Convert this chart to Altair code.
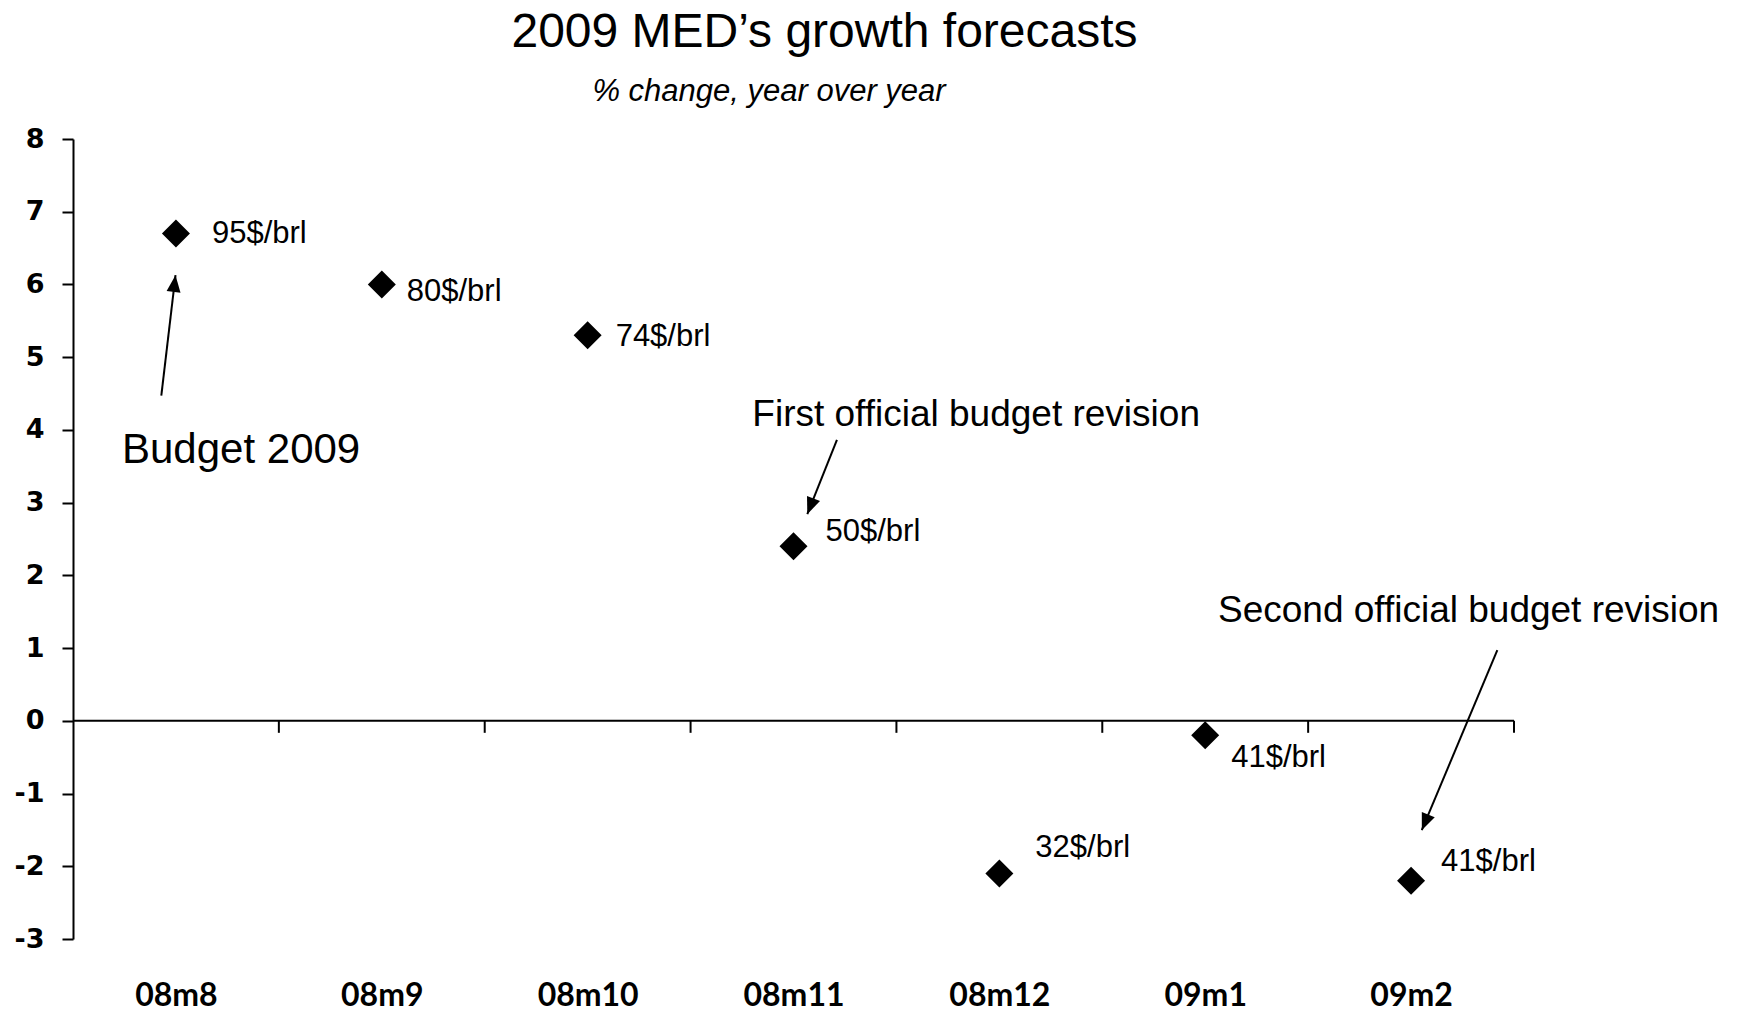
import json
import math

import altair as alt
import pandas as pd

# Forecast vintages and the oil-price assumption behind each one
months = ["08m8", "08m9", "08m10", "08m11", "08m12", "09m1", "09m2"]
growth = [6.7, 6.0, 5.3, 2.4, -2.1, -0.2, -2.2]
oil_price = [95, 80, 74, 50, 32, 41, 41]

# Callouts: text, anchor (x in month slots, y in %), font size
notes = [
    ("Budget 2009", 0.238, 3.73, 42),
    ("First official budget revision", 3.30, 4.21, 37),
    ("Second official budget revision", 5.562, 1.51, 37),
]

# Arrows: start (x, y) -> tip (x, y), same units as the chart axes
arrows = [
    (0.429, 4.47, 0.498, 6.127),
    (3.711, 3.864, 3.567, 2.842),
    (6.919, 0.972, 6.552, -1.503),
]

# Pixel nudges for the price labels next to each diamond
label_offsets = [(36, 0), (25, 8), (28, 2), (32, -14), (36, -26), (26, 23), (30, -19)]

W, H = 1441, 800
Y_MIN, Y_MAX = -3, 8
N = len(months)

df = pd.DataFrame({
    "pos": [i + 0.5 for i in range(N)],
    "growth": growth,
    "label": [f"{p}$/brl" for p in oil_price],
})

x_scale = alt.Scale(domain=[0, N], nice=False, zero=False)
y_scale = alt.Scale(domain=[Y_MIN, Y_MAX], nice=False, zero=False)

label_expr = json.dumps(months) + "[round(datum.value - 0.5)]"

x_axis = alt.Axis(
    values=[i + 0.5 for i in range(N)],
    labelExpr=label_expr,
    domain=False, ticks=False, tickSize=0, grid=False,
    labelFont="Lato", labelFontWeight="bold", labelFontSize=32,
    labelColor="black", labelPadding=41,
    labelFlush=False, labelOverlap=False, labelBound=False,
    title=None,
)
y_axis = alt.Axis(
    values=list(range(Y_MIN, Y_MAX + 1)),
    labelExpr="'' + datum.value",
    grid=False,
    domainColor="black", domainWidth=2,
    tickColor="black", tickWidth=2, tickSize=11,
    labelFont="DejaVu Sans", labelFontWeight="bold", labelFontSize=27,
    labelColor="black", labelPadding=18,
    labelFlush=False, labelOverlap=False,
    title=None,
)


def X(field):
    return alt.X(field, scale=x_scale, axis=x_axis)


def Y(field):
    return alt.Y(field, scale=y_scale, axis=y_axis)


# Diamonds
points = alt.Chart(df).mark_point(
    shape="diamond", filled=True, color="black", opacity=1, size=784
).encode(x=X("pos:Q"), y=Y("growth:Q"))

# Horizontal axis line crossing at zero
zero_df = pd.DataFrame({"v": [0]})
zero_line = alt.Chart(zero_df).mark_rule(color="black", strokeWidth=2).encode(
    y=Y("v:Q"),
)

# Category-boundary ticks hanging below the zero line
bounds_df = pd.DataFrame({"b": list(range(1, N + 1)), "v": [0] * N})
bound_ticks = alt.Chart(bounds_df).mark_rule(
    color="black", strokeWidth=2, y2Offset=12
).encode(x=X("b:Q"), y=Y("v:Q"), y2="v:Q")

# Price labels, one layer each so every label gets its own nudge
price_layers = []
for i, (dx, dy) in enumerate(label_offsets):
    price_layers.append(
        alt.Chart(df.iloc[[i]]).mark_text(
            align="left", baseline="middle", dx=dx, dy=dy,
            font="Liberation Sans", fontSize=31, color="black",
        ).encode(x=X("pos:Q"), y=Y("growth:Q"), text="label:N")
    )

# Callout texts
note_layers = []
for text, nx, ny, fs in notes:
    note_layers.append(
        alt.Chart(pd.DataFrame({"t": [text], "x": [nx], "y": [ny]})).mark_text(
            align="left", baseline="middle",
            font="Liberation Sans", fontSize=fs, color="black",
        ).encode(x=X("x:Q"), y=Y("y:Q"), text="t:N")
    )

# Arrow shafts and heads
px_x = W / N
px_y = H / (Y_MAX - Y_MIN)
arrow_rows = []
for x1, y1, x2, y2 in arrows:
    sdx = (x2 - x1) * px_x
    sdy = -(y2 - y1) * px_y
    ang = math.degrees(math.atan2(sdx, -sdy)) % 360
    arrow_rows.append({"x1": x1, "y1": y1, "x2": x2, "y2": y2, "ang": ang})
arrow_df = pd.DataFrame(arrow_rows)

shafts = alt.Chart(arrow_df).mark_rule(color="black", strokeWidth=2).encode(
    x=X("x1:Q"), y=Y("y1:Q"), x2="x2:Q", y2="y2:Q",
)
heads = alt.Chart(arrow_df).mark_point(
    shape="M0,0L-0.5,1.2L0.5,1.2Z", filled=True, color="black", opacity=1, size=784
).encode(
    x=X("x2:Q"), y=Y("y2:Q"),
    angle=alt.Angle("ang:Q", scale=None),
)

# Subtitle line under the title
subtitle = alt.Chart(zero_df).mark_text(
    align="center", baseline="middle",
    font="Liberation Sans", fontSize=31, fontStyle="italic", color="black",
).encode(
    x=alt.value(696),
    y=alt.value(-47),
    text=alt.value("% change, year over year"),
)

chart = alt.layer(
    points, zero_line, bound_ticks, shafts, heads, *price_layers, *note_layers, subtitle
).properties(
    width=W,
    height=H,
    title=alt.TitleParams(
        "2009 MED’s growth forecasts",
        font="Liberation Sans", fontSize=48, fontWeight="normal", color="black",
        anchor="middle", frame="group", dx=31, offset=19,
    ),
    padding={"left": 73, "top": 139, "right": 228, "bottom": 72},
    autosize=alt.AutoSizeParams(type="none"),
).configure(background="white").configure_view(stroke=None)

chart.save("out.html", embed_options={"renderer": "svg", "actions": False})
